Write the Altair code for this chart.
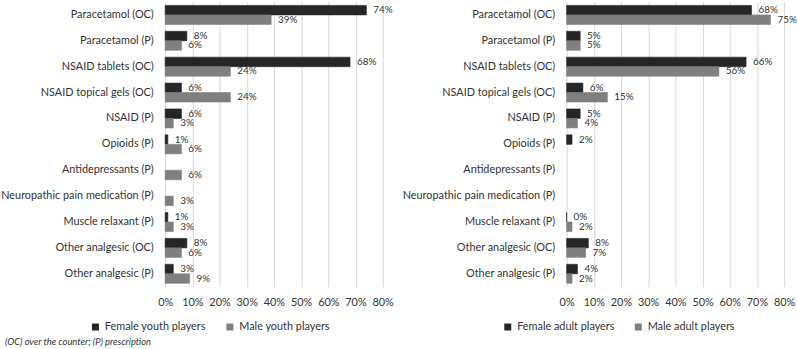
import altair as alt
import pandas as pd

categories = [
    "Paracetamol (OC)",
    "Paracetamol (P)",
    "NSAID tablets (OC)",
    "NSAID topical gels (OC)",
    "NSAID (P)",
    "Opioids (P)",
    "Antidepressants (P)",
    "Neuropathic pain medication (P)",
    "Muscle relaxant (P)",
    "Other analgesic (OC)",
    "Other analgesic (P)",
]

youth_female = [74, 8, 68, 6, 6, 1, None, None, 1, 8, 3]
youth_male = [39, 6, 24, 24, 3, 6, 6, 3, 3, 6, 9]
adult_female = [68, 5, 66, 6, 5, 2, None, None, 0, 8, 4]
adult_male = [75, 5, 56, 15, 4, None, None, None, 2, 7, 2]

x_ticks = [0, 10, 20, 30, 40, 50, 60, 70, 80]
footnote = "(OC) over the counter; (P) prescription"

FONT = "Lato"
TEXT = "#333333"
DARK = "#262626"
GREY = "#7f7f7f"
BAR_H = 9.6


def panel(female, male, f_name, m_name, legend_x, with_note=False):
    rows = []
    for cat, f, m in zip(categories, female, male):
        if f is not None:
            rows.append({"category": cat, "group": f_name, "value": f, "label": f"{f}%"})
        if m is not None:
            rows.append({"category": cat, "group": m_name, "value": m, "label": f"{m}%"})
    df = pd.DataFrame(rows)
    groups = [f_name, m_name]

    y_enc = alt.Y(
        "category:N",
        sort=categories,
        title=None,
        scale=alt.Scale(domain=categories, paddingInner=0, paddingOuter=0),
        axis=alt.Axis(
            ticks=False,
            domain=False,
            labelFont=FONT,
            labelFontSize=11,
            labelColor=TEXT,
            labelPadding=12,
            labelLimit=300,
            minExtent=162,
            maxExtent=162,
        ),
    )
    x_enc = alt.X(
        "value:Q",
        title=None,
        scale=alt.Scale(domain=[0, 80], nice=False),
        axis=alt.Axis(
            values=x_ticks,
            labelExpr="datum.value + '%'",
            labelOverlap=False,
            labelFlush=False,
            ticks=False,
            domain=False,
            grid=True,
            gridColor="#d9d9d9",
            labelFont=FONT,
            labelFontSize=11,
            labelColor=TEXT,
            labelPadding=10,
        ),
    )
    color_enc = alt.Color(
        "group:N",
        sort=groups,
        scale=alt.Scale(domain=groups, range=[DARK, GREY]),
        legend=alt.Legend(
            title=None,
            orient="none",
            direction="horizontal",
            legendX=legend_x,
            legendY=323,
            symbolType="square",
            symbolSize=50,
            symbolStrokeWidth=0,
            labelFont=FONT,
            labelFontSize=11,
            labelColor=TEXT,
            columnPadding=18,
        ),
    )

    base = alt.Chart(df).encode(y=y_enc, x=x_enc)
    layers = []
    # female bar sits in the upper half of each category band, male bar in the lower half
    for name, shift in ((f_name, -BAR_H / 2), (m_name, BAR_H / 2)):
        sub = base.transform_filter(alt.datum.group == name)
        layers.append(
            sub.mark_bar(height=BAR_H, yOffset=shift, strokeWidth=0.6).encode(
                color=color_enc,
                stroke=alt.Stroke("group:N", scale=alt.Scale(domain=groups, range=[DARK, GREY]), legend=None),
            )
        )
        layers.append(
            sub.mark_text(
                align="left", baseline="middle", dx=7, dy=shift,
                font=FONT, fontSize=10, color=TEXT,
            ).encode(text="label:N")
        )

    if with_note:
        note = alt.Chart(pd.DataFrame({"t": [footnote]})).mark_text(
            align="left", baseline="alphabetic", font=FONT, fontSize=9.5,
            fontStyle="italic", color=TEXT,
        ).encode(text="t:N", x=alt.value(-162), y=alt.value(347))
        layers.append(note)

    return alt.layer(*layers).properties(width=220, height=288)


left = panel(youth_female, youth_male, "Female youth players", "Male youth players", -76, with_note=True)
right = panel(adult_female, adult_male, "Female adult players", "Male adult players", -65)

chart = (
    alt.hconcat(left, right, spacing=186, bounds="flush")
    .resolve_scale(color="independent", stroke="independent", y="independent")
    .properties(padding=0)
    .configure_view(stroke=None)
)

chart.save("out.html", embed_options={"renderer": "svg", "actions": False})
